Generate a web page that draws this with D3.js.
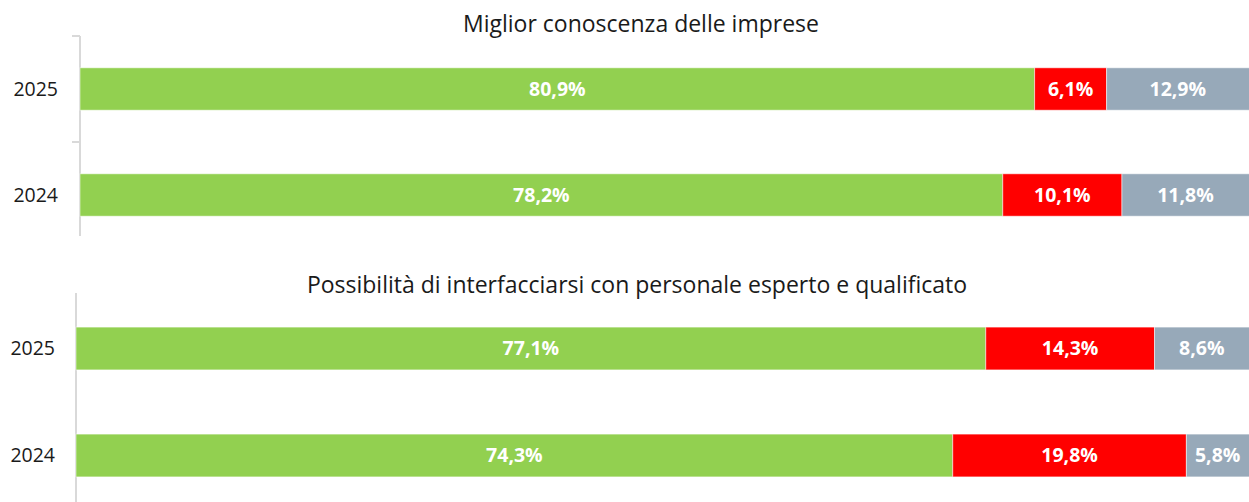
<!DOCTYPE html>
<html>
<head>
<meta charset="utf-8">
<script src="https://cdn.jsdelivr.net/npm/d3@7"></script>
<style>
  body { margin: 0; background: #fff; }
  svg { display: block; font-family: "Open Sans", sans-serif; }
</style>
</head>
<body>
<div id="chart"></div>
<script>
// data
var titles = ["Miglior conoscenza delle imprese", "Possibilità di interfacciarsi con personale esperto e qualificato"];
var years = ["2025", "2024"];
var positivi = [[80.9, 78.2], [77.1, 74.3]];
var negativi = [[6.1, 10.1], [14.3, 19.8]];
var nonSa = [[12.9, 11.8], [8.6, 5.8]];
var seriesKeys = ["positivi", "negativi", "nonSa"];

var colors = d3.scaleOrdinal()
    .domain(seriesKeys)
    .range(["#92D050", "#FF0000", "#97A9B9"]);

var W = 1249, H = 502;
var svg = d3.select("#chart").append("svg")
    .attr("width", W)
    .attr("height", H);

// panel layout
var panels = [
    { left: 80, top: 36, step: 106, axisTop: 36, axisBottom: 236, titleX: 641, titleY: 32, labelX: 58, ticks: true },
    { left: 76, top: 295, step: 107, axisTop: 293, axisBottom: 502, titleX: 637, titleY: 293, labelX: 55, ticks: false }
];

var fmt = function(v){ return d3.format(".1f")(v).replace(".", ",") + "%"; };

panels.forEach(function(p, pi){
    var g = svg.append("g");

    var x = d3.scaleLinear().domain([0, 100]).range([p.left, p.left + 1180]);
    var y = d3.scaleBand().domain(years)
        .range([p.top, p.top + p.step * years.length])
        .paddingInner(0.6).paddingOuter(0.3);

    var rows = years.map(function(yr, i){
        return { year: yr, positivi: positivi[pi][i], negativi: negativi[pi][i], nonSa: nonSa[pi][i] };
    });
    var stacked = d3.stack().keys(seriesKeys)(rows);

    // title
    g.append("text")
        .attr("x", p.titleX)
        .attr("y", p.titleY)
        .attr("text-anchor", "middle")
        .style("font-size", "23px")
        .style("fill", "#1a1a1a")
        .text(titles[pi]);

    // axis line
    g.append("line")
        .attr("x1", p.left).attr("x2", p.left)
        .attr("y1", p.axisTop).attr("y2", p.axisBottom)
        .attr("stroke", "#d9d9d9").attr("stroke-width", 2);

    if (p.ticks) {
        var edges = [p.top, p.top + p.step];
        g.selectAll(".tick").data(edges).enter().append("line")
            .attr("x1", p.left - 8).attr("x2", p.left)
            .attr("y1", function(d){ return d; }).attr("y2", function(d){ return d; })
            .attr("stroke", "#d9d9d9").attr("stroke-width", 2);
    }

    // year labels
    g.selectAll(".ylab").data(years).enter().append("text")
        .attr("x", p.labelX)
        .attr("y", function(d){ return y(d) + y.bandwidth() / 2; })
        .attr("dy", "0.35em")
        .attr("text-anchor", "end")
        .style("font-size", "19.5px")
        .style("fill", "#1a1a1a")
        .text(function(d){ return d; });

    // bars
    var layers = g.selectAll(".layer").data(stacked).enter().append("g")
        .attr("fill", function(d){ return colors(d.key); });

    layers.selectAll("rect").data(function(d){ return d; }).enter().append("rect")
        .attr("x", function(d){ return x(d[0]); })
        .attr("y", function(d){ return y(d.data.year); })
        .attr("width", function(d){ return x(d[1]) - x(d[0]); })
        .attr("height", y.bandwidth())
        .attr("stroke", "rgba(255,255,255,0.5)")
        .attr("stroke-width", 1);

    layers.selectAll("text").data(function(d){ return d; }).enter().append("text")
        .attr("x", function(d){ return (x(d[0]) + Math.min(x(d[1]), W)) / 2; })
        .attr("y", function(d){ return y(d.data.year) + y.bandwidth() / 2; })
        .attr("dy", "0.35em")
        .attr("text-anchor", "middle")
        .style("font-size", "19.5px")
        .style("font-weight", "bold")
        .style("fill", "#fff")
        .text(function(d){ return fmt(d[1] - d[0]); });
});
</script>
</body>
</html>
